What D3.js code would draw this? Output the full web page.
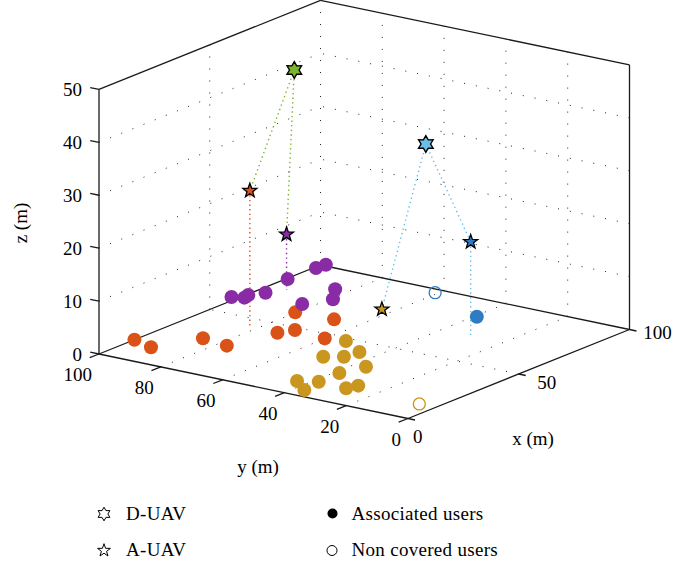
<!DOCTYPE html>
<html>
<head>
<meta charset="utf-8">
<script src="https://cdn.jsdelivr.net/npm/d3@7"></script>
<style>
body { margin: 0; background: #fff; }
text { font-family: "Liberation Serif", "Times New Roman", serif; fill: #000; }
</style>
</head>
<body>
<div class="chart"></div>
<script>
var svgWidth = 673;
var svgHeight = 563;

// axis ticks
var xTicks = [0, 50, 100];
var yTicks = [0, 20, 40, 60, 80, 100];
var zTicks = [0, 10, 20, 30, 40, 50];

// ground users [x, y] (m)
var orangeUsers = [[16, 100], [13, 92.5], [27.7, 86.2], [25.9, 77.2], [61.1, 80.3],
  [43.3, 73.3], [48, 71], [61.9, 68.3], [46.4, 60.2]];
var purpleUsers = [[62.6, 102], [64.1, 98.9], [66.7, 99.5], [71, 97], [84.6, 99.6],
  [97.1, 99.4], [101, 99], [84.3, 84], [76.6, 79.2], [68.3, 83.2]];
var goldUsers = [[47.7, 54.3], [32.6, 50.8], [35.8, 46.4], [41.7, 45.6], [31.8, 36.4],
  [23, 38.7], [13.4, 38.5], [10.6, 43.5], [5.1, 37.2], [12.8, 29.2], [16.6, 28]];
var blueUsers = [[85.9, 39.3]];
var uncovered = [{ c: "gold", p: [12.5, 5.3] }, { c: "blue", p: [97.2, 60.9] }];

// UAVs [x, y, z] (m)
var dUavs = [{ c: "green", p: [44.5, 68.7, 50] }, { c: "cyan", p: [49.2, 29.5, 40] }];
var aUavs = [
  { c: "orange", p: [42.3, 81.5, 26], d: 0, drop: "orange" },
  { c: "purple", p: [76.3, 94, 10.5], d: 0, drop: "purple" },
  { c: "gold", p: [37.6, 35.4, 10], d: 1, drop: null },
  { c: "blue", p: [71.4, 30.9, 17.6], d: 1, drop: "cyan" }
];

var colors = {
  orange: "#D95319", purple: "#8A2BA6", gold: "#C9961F", blue: "#2F7BC4",
  green: "#7CB42E", cyan: "#6BBFE6"
};

var svg = d3.select(".chart")
  .append("svg")
  .attr("width", svgWidth)
  .attr("height", svgHeight);

// projection of the 3d box onto the page
var origin = [408, 418.5];
var xToPx = d3.scaleLinear().domain([0, 100]).range([0, 221.5]);
var xToPy = d3.scaleLinear().domain([0, 100]).range([0, -89]);
var yToPx = d3.scaleLinear().domain([0, 100]).range([0, -309]);
var yToPy = d3.scaleLinear().domain([0, 100]).range([0, -64.5]);
var zToPy = d3.scaleLinear().domain([0, 50]).range([0, -264.6]);

function proj(x, y, z) {
  return [origin[0] + xToPx(x) + yToPx(y), origin[1] + xToPy(x) + yToPy(y) + zToPy(z || 0)];
}

var line = d3.line();

function seg(g, a, b) {
  return g.append("path").attr("d", line([proj.apply(null, a), proj.apply(null, b)]));
}

var grid = svg.append("g")
  .attr("fill", "none")
  .attr("stroke", "#222")
  .attr("stroke-width", 1)
  .attr("stroke-dasharray", "1,11");

// floor grid
xTicks.filter(d => d > 0 && d < 100).forEach(d => seg(grid, [d, 0, 0], [d, 100, 0]));
yTicks.filter(d => d > 0 && d < 100).forEach(d => seg(grid, [0, d, 0], [100, d, 0]));
// wall y = 100
xTicks.filter(d => d > 0).forEach(d => seg(grid, [d, 100, 0], [d, 100, 50]));
zTicks.filter(d => d > 0 && d < 50).forEach(d => seg(grid, [0, 100, d], [100, 100, d]));
// wall x = 100
yTicks.filter(d => d > 0 && d < 100).forEach(d => seg(grid, [100, d, 0], [100, d, 50]));
zTicks.filter(d => d > 0 && d < 50).forEach(d => seg(grid, [100, 0, d], [100, 100, d]));

// box edges
var box = svg.append("g").attr("fill", "none").attr("stroke", "#1a1a1a").attr("stroke-width", 1.3);
[[[0, 0, 0], [0, 100, 0]], [[0, 0, 0], [100, 0, 0]], [[0, 100, 0], [100, 100, 0]],
 [[100, 100, 0], [100, 0, 0]], [[0, 100, 0], [0, 100, 50]], [[100, 0, 0], [100, 0, 50]],
 [[0, 100, 50], [100, 100, 50]], [[100, 100, 50], [100, 0, 50]]]
  .forEach(e => seg(box, e[0], e[1]));

// ticks
function tick(g, p, dx, dy) {
  var a = proj.apply(null, p);
  g.append("path").attr("d", line([a, [a[0] + dx, a[1] + dy]]));
}
zTicks.forEach(d => tick(box, [0, 100, d], -8.8, -1.8));
yTicks.forEach(d => tick(box, [0, d, 0], -9.3, 3.7));
xTicks.forEach(d => tick(box, [d, 0, 0], 7, 1.5));

// tick labels
var labels = svg.append("g").style("font-size", "19px");
zTicks.forEach(function(d) {
  var a = proj(0, 100, d);
  labels.append("text").attr("x", a[0] - 17).attr("y", a[1])
    .attr("text-anchor", "end").attr("dominant-baseline", "central").text(d);
});
yTicks.forEach(function(d) {
  var a = proj(0, d, 0);
  labels.append("text").attr("x", a[0] - 7).attr("y", a[1] + 20.5)
    .attr("text-anchor", "end").attr("dominant-baseline", "central").text(d);
});
var xLabDx = d3.scaleLinear().domain([0, 50, 100]).range([9.7, 28, 28]);
var xLabDy = d3.scaleLinear().domain([0, 50, 100]).range([17.5, 8.7, 3]);
xTicks.forEach(function(d) {
  var a = proj(d, 0, 0);
  labels.append("text").attr("x", a[0] + xLabDx(d)).attr("y", a[1] + xLabDy(d))
    .attr("text-anchor", "middle").attr("dominant-baseline", "central").text(d);
});

// axis titles
labels.append("text").attr("transform", "translate(20,223) rotate(-90)")
  .attr("text-anchor", "middle").attr("dominant-baseline", "central").text("z (m)");
labels.append("text").attr("x", 258).attr("y", 466)
  .attr("text-anchor", "middle").attr("dominant-baseline", "central").text("y (m)");
labels.append("text").attr("x", 533).attr("y", 438)
  .attr("text-anchor", "middle").attr("dominant-baseline", "central").text("x (m)");

// links: D-UAV to A-UAV, and A-UAV drop lines
var links = svg.append("g").attr("fill", "none").attr("stroke-width", 1.4).attr("stroke-dasharray", "1.4,3.2");
aUavs.forEach(function(a) {
  var d = dUavs[a.d];
  seg(links, d.p, a.p).attr("stroke", colors[d.c]);
  if (a.drop) seg(links, a.p, [a.p[0], a.p[1], 0]).attr("stroke", colors[a.drop]);
});

// star shapes
function starPath(n, rOut, rIn) {
  var pts = d3.range(n * 2).map(function(i) {
    var r = i % 2 ? rIn : rOut;
    var ang = -Math.PI / 2 + i * Math.PI / n;
    return [r * Math.cos(ang), r * Math.sin(ang)];
  });
  return line(pts) + "Z";
}
var pentagram = starPath(5, 7.4, 3);
var hexagram = starPath(6, 8.4, 4.8);

// users
var marks = svg.append("g");
function users(arr, c) {
  marks.selectAll(null).data(arr).enter().append("circle")
    .attr("cx", d => proj(d[0], d[1], 0)[0])
    .attr("cy", d => proj(d[0], d[1], 0)[1])
    .attr("r", 7)
    .attr("fill", colors[c]);
}
users(orangeUsers, "orange");
users(purpleUsers, "purple");
users(goldUsers, "gold");
users(blueUsers, "blue");
marks.selectAll(null).data(uncovered).enter().append("circle")
  .attr("cx", d => proj(d.p[0], d.p[1], 0)[0])
  .attr("cy", d => proj(d.p[0], d.p[1], 0)[1])
  .attr("r", 6)
  .attr("fill", "none")
  .attr("stroke", d => colors[d.c])
  .attr("stroke-width", 1.3);

// UAV markers
marks.selectAll(null).data(aUavs).enter().append("path")
  .attr("d", pentagram)
  .attr("transform", d => "translate(" + proj.apply(null, d.p) + ")")
  .attr("fill", d => colors[d.c])
  .attr("stroke", "#000").attr("stroke-width", 1.3).attr("stroke-linejoin", "miter");
marks.selectAll(null).data(dUavs).enter().append("path")
  .attr("d", hexagram)
  .attr("transform", d => "translate(" + proj.apply(null, d.p) + ")")
  .attr("fill", d => colors[d.c])
  .attr("stroke", "#000").attr("stroke-width", 1.4).attr("stroke-linejoin", "miter");

// legend
var legend = svg.append("g").style("font-size", "19px").style("letter-spacing", "0.3px");
legend.append("path").attr("d", starPath(6, 6.8, 3.9)).attr("transform", "translate(104,514)")
  .attr("fill", "#fff").attr("stroke", "#000").attr("stroke-width", 1);
legend.append("text").attr("x", 126).attr("y", 519.5).text("D-UAV");
legend.append("path").attr("d", starPath(5, 6.8, 2.7)).attr("transform", "translate(104,550.5)")
  .attr("fill", "#fff").attr("stroke", "#000").attr("stroke-width", 1);
legend.append("text").attr("x", 126).attr("y", 556).text("A-UAV");
legend.append("circle").attr("cx", 332.5).attr("cy", 513.5).attr("r", 5).attr("fill", "#000");
legend.append("text").attr("x", 351.5).attr("y", 519.5).text("Associated users");
legend.append("circle").attr("cx", 332).attr("cy", 550.5).attr("r", 5)
  .attr("fill", "none").attr("stroke", "#000").attr("stroke-width", 1);
legend.append("text").attr("x", 351.5).attr("y", 556).text("Non covered users");
</script>
</body>
</html>
